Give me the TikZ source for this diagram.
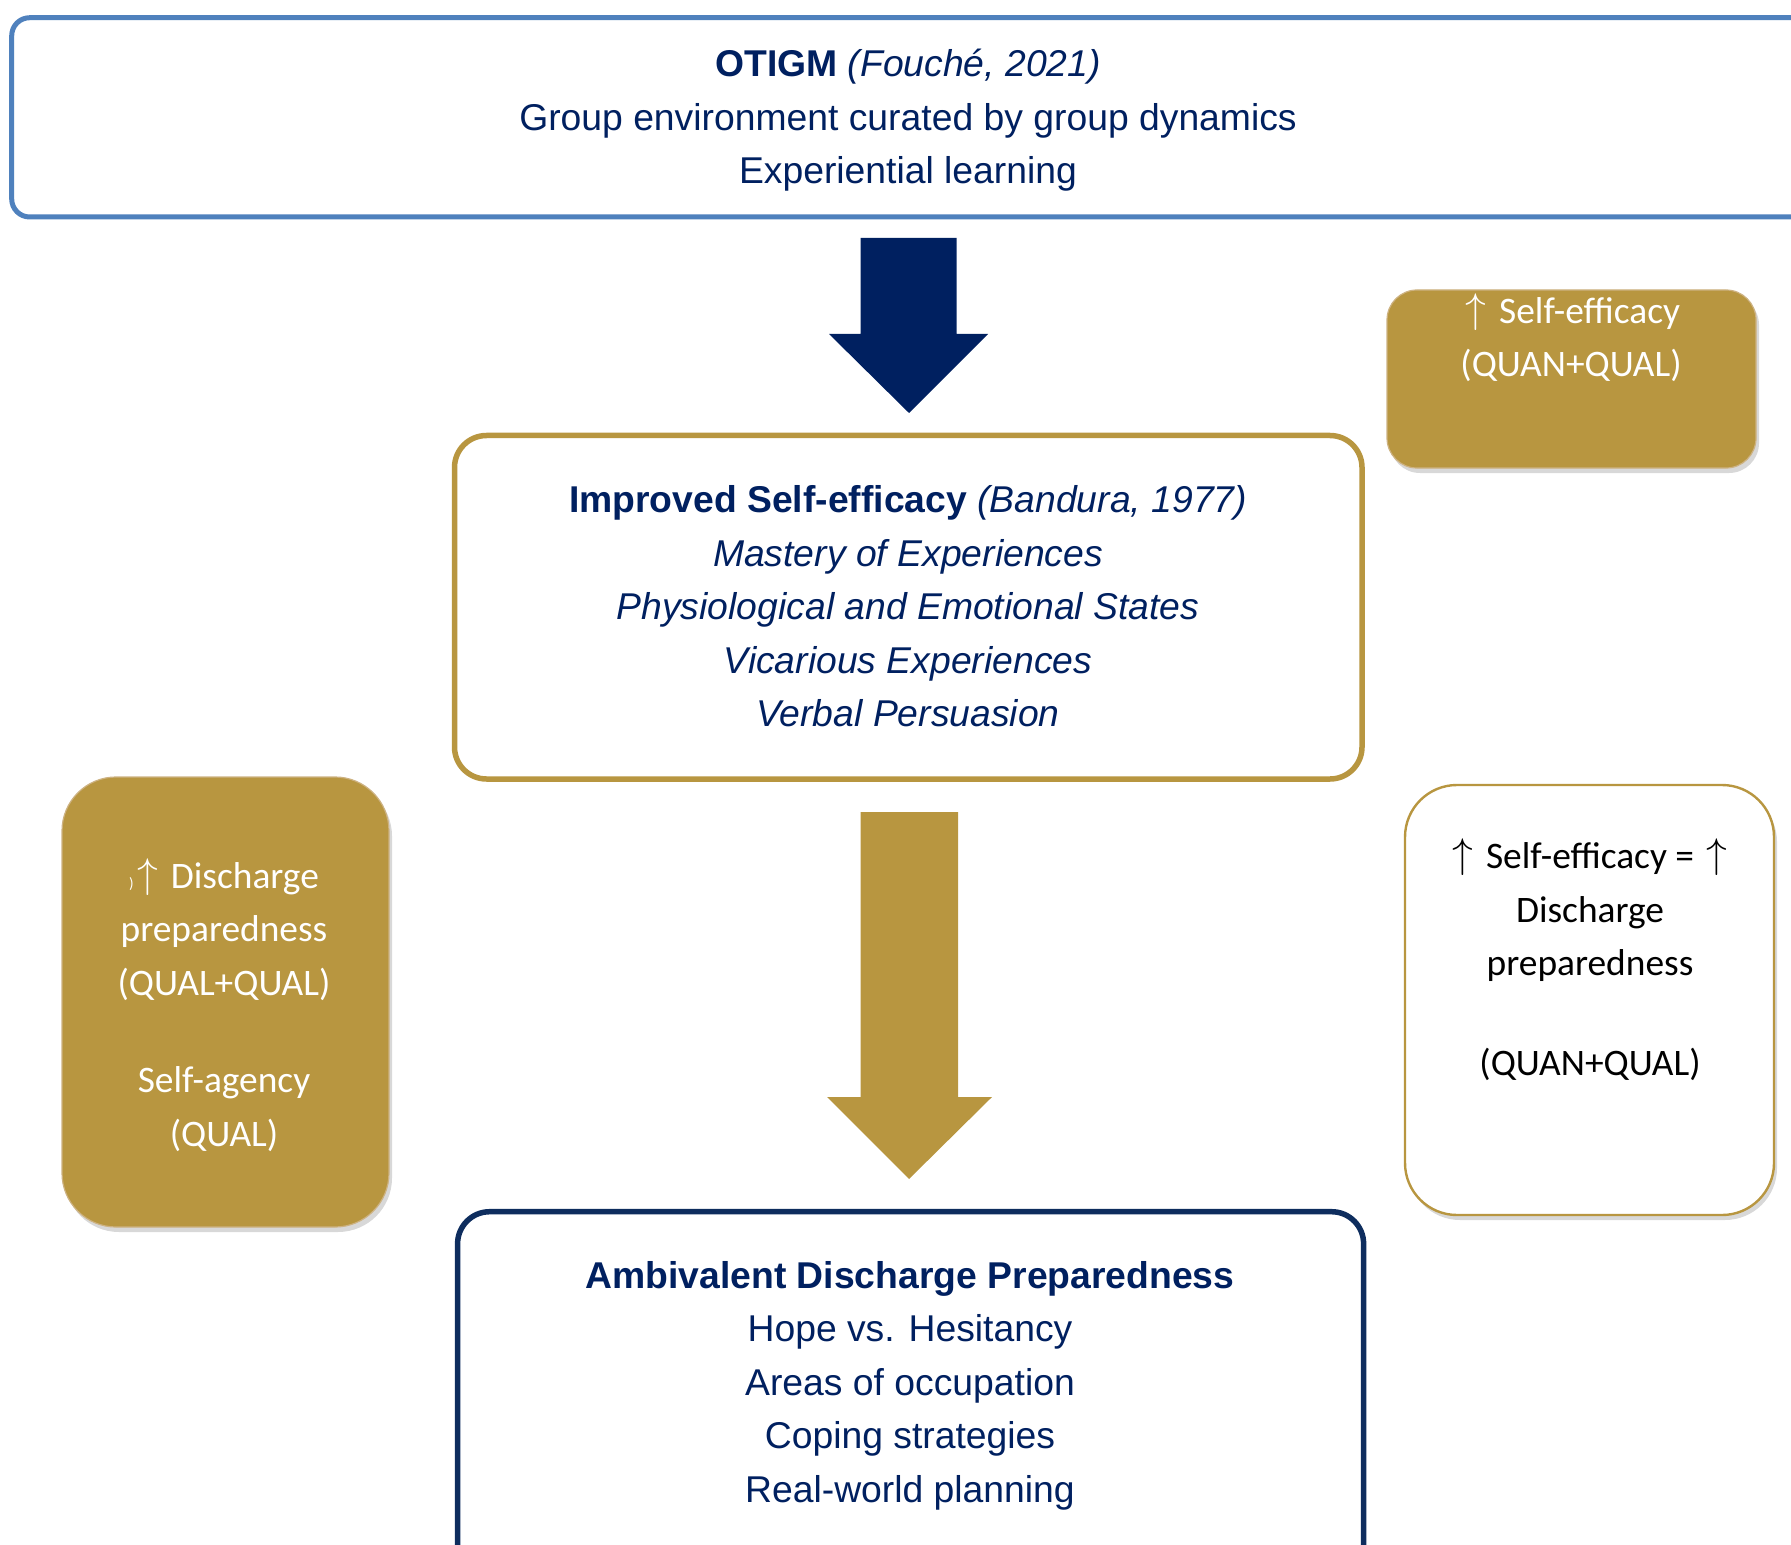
\documentclass[tikz,border=0pt]{standalone}
\usepackage{fontspec}
\usepackage{graphicx}
\setmainfont{Liberation Sans}
\newfontfamily\calib{Carlito}
\usetikzlibrary{shadows}
\definecolor{navy}{RGB}{0,32,96}
\definecolor{navyline}{RGB}{14,45,94}
\definecolor{gold}{RGB}{184,150,64}
\definecolor{steel}{RGB}{79,129,189}
\definecolor{tanline}{RGB}{205,178,130}
\newcommand{\upar}{\kern2pt\raisebox{0.5pt}{\scalebox{1.2}{$\uparrow$}}\kern2pt}
\begin{document}
\begin{tikzpicture}[x=0.5pt,y=-0.5pt,
  every node/.style={inner sep=0pt,outer sep=0pt},
  bigtext/.style={font=\fontsize{18.65}{26.75}\selectfont, text=navy, align=center},
  caltext/.style={font=\calib\fontsize{18.7}{26.75}\selectfont, align=center},
  softshadow/.style={drop shadow={shadow xshift=1.5pt, shadow yshift=-2.5pt, opacity=0.22, fill=black!70}},
  goldbox/.style={rectangle, fill=gold, draw=tanline, line width=0.6pt, softshadow},
  whitebox/.style={rectangle, fill=white, draw=gold, line width=1.2pt, softshadow},
  framebox/.style={rectangle, fill=white, line width=2.75pt}
]
\useasboundingbox (0,0) rectangle (1791,1545);

% top box
\node[framebox, draw=steel, line width=2.5pt, rounded corners=9pt,
      minimum width=909.15pt, minimum height=99.65pt] (otigm) at (920.85,117.35) {};
\node[bigtext] (otigmtxt) at (908,119.5)
  {\strut\textbf{OTIGM} \textit{(Fouché, 2021)}\\
   \strut Group environment curated by group dynamics\\
   \strut Experiential learning};

% middle box
\node[framebox, draw=gold, rounded corners=16pt,
      minimum width=453.75pt, minimum height=171.75pt] (se) at (908.25,607.25) {};
\node[bigtext] (setxt) at (908,609)
  {\strut\textbf{Improved Self-efficacy} \textit{(Bandura, 1977)}\\
   \strut\textit{Mastery of Experiences}\\
   \strut\textit{Physiological and Emotional States}\\
   \strut\textit{Vicarious Experiences}\\
   \strut\textit{Verbal Persuasion}};

% bottom box
\node[framebox, draw=navyline, rounded corners=16pt,
      minimum width=453pt, minimum height=194.15pt] (adp) at (910.6,1405.85) {};
\node[bigtext] (adptxt) at (910,1384.5)
  {\strut\textbf{Ambivalent Discharge Preparedness}\\
   \strut Hope vs. Hesitancy\\
   \strut Areas of occupation\\
   \strut Coping strategies\\
   \strut Real-world planning};

% right gold box
\node[goldbox, rounded corners=15pt, minimum width=184.5pt, minimum height=89pt] (rg) at (1571.5,379) {};
\node[caltext, text=white] (rgtxt) at (1571,339.5)
  {\strut\upar{} Self-efficacy\\
   \strut(QUAN+QUAL)};

% left gold box
\node[goldbox, rounded corners=27pt, minimum width=163.5pt, minimum height=225pt] (lg) at (225.5,1002) {};
\node[caltext, text=white] (lgtxt) at (224,1006.5)
  {\strut{\fontsize{7.5}{8}\selectfont )}\upar{} Discharge\\
   \strut preparedness\\
   \strut(QUAL+QUAL)\\[22pt]
   \strut Self-agency\\
   \strut(QUAL)};

% right white box
\node[whitebox, rounded corners=26pt, minimum width=184.5pt, minimum height=215pt] (rw) at (1589.5,1000) {};
\node[caltext, text=black] (rwtxt) at (1590,961.5)
  {\strut\upar{} Self-efficacy = \upar\\
   \strut Discharge\\
   \strut preparedness\\[23pt]
   \strut(QUAN+QUAL)};

% block arrows
\coordinate (a1) at (909,238);
\fill[navy] (860.7,238) -- (956.7,238) -- (956.7,334) -- (988,334) -- (909,413)
  -- (829,334) -- (860.7,334) -- cycle;
\coordinate (a2) at (909,812);
\fill[gold] (860.7,812) -- (958,812) -- (958,1097) -- (992,1097) -- (909,1179)
  -- (827,1097) -- (860.7,1097) -- cycle;
\end{tikzpicture}
\end{document}
